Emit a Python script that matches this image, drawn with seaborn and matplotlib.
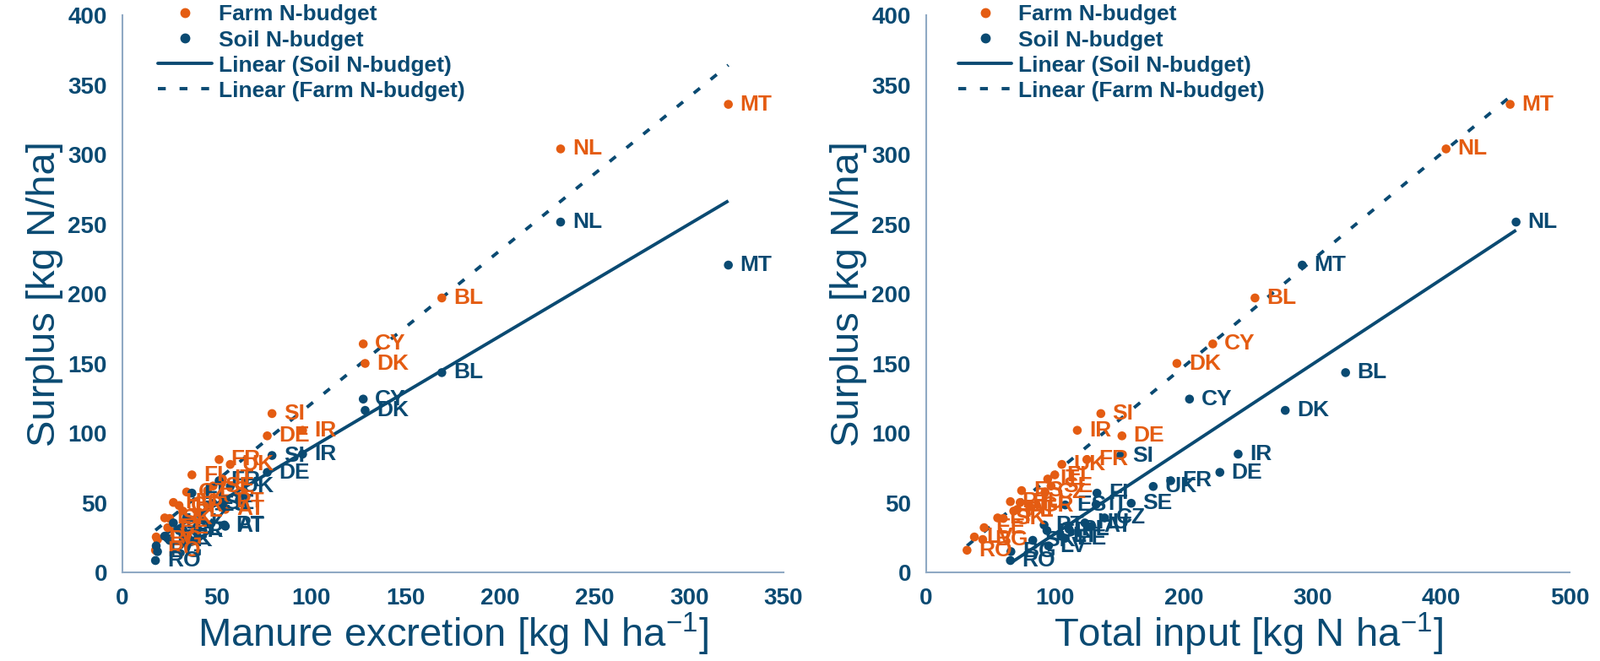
import numpy as np
import pandas as pd
import matplotlib as mpl
mpl.use("Agg")
import matplotlib.pyplot as plt
from matplotlib.lines import Line2D
import seaborn as sns

# %%
# values
countries = ["MT", "NL", "BL", "CY", "DK", "SI", "IR", "DE", "FR", "UK", "FI", "IT", "ES",
             "CZ", "SE", "PT", "HU", "AT", "PL", "GR", "LT", "SK", "EE", "LV", "BG", "RO"]
farm_surplus = [336, 304, 197, 164, 150, 114, 102, 98, 81, 77.5, 70, 67, 58.7,
                57.7, 62, 50.8, 50.2, 45.2, 44, 48, 39.1, 38.7, 32.1, 25.4, 23.6, 15.9]
soil_surplus = [220.6, 251.5, 143.4, 124.4, 116.3, 83.9, 84.9, 71.8, 65.8, 61.7, 56.9, 48.8, 48.4,
                39.1, 49.6, 34, 35.5, 33.1, 31, 30, 26, 23, 24.5, 19, 14.9, 8.5]
manure = [320.8, 232, 169.1, 127.5, 128.5, 79.2, 95.4, 76.7, 51.2, 57.1, 36.8, 53, 45,
          34, 48, 54, 27, 54.5, 32, 30, 22.4, 25, 24, 17.9, 18.6, 17.5]
input_farm = [453.8, 404, 255.5, 222.7, 194.8, 135.7, 117.4, 152.1, 124.8, 105.4, 99.9, 94.4, 74.1,
              92.3, 97, 65.4, 73, 70.8, 68, 80, 55.5, 59.9, 45, 37.4, 43.9, 31.7]
input_soil = [292.2, 458.4, 325.9, 204.6, 279, 151, 242.4, 228.2, 190, 176.4, 132.7, 132, 108,
              138.6, 159.3, 91.6, 123.3, 128.7, 111, 93.8, 104.7, 82.8, 108, 95, 65.8, 65.4]

df = pd.DataFrame({
    "country": countries,
    "farm": farm_surplus,
    "soil": soil_surplus,
    "manure": manure,
    "in_farm": input_farm,
    "in_soil": input_soil,
})

ORANGE = "#e45c12"
NAVY = "#0a4a72"
SPINE = "#8fa9c4"
DASH = (0, (2.4, 4.2))

sns.set_style("white")
plt.rcParams["font.family"] = ["Liberation Sans", "DejaVu Sans"]
plt.rcParams["mathtext.fontset"] = "custom"
plt.rcParams["mathtext.rm"] = "Liberation Sans"

fig = plt.figure(figsize=(18.95, 7.83), dpi=100)
ax1 = fig.add_axes([0.0765, 0.1341, 0.4132, 0.8429])
ax2 = fig.add_axes([0.5789, 0.1341, 0.4021, 0.8429])

panels = [
    (ax1, "manure", "manure", "Manure excretion [kg N ha$^{-1}$]", 350, 50, 0.054),
    (ax2, "in_farm", "in_soil", "Total input [kg N ha$^{-1}$]", 500, 100, 0.050),
]

for ax, xf, xs, xlabel, xmax, xstep, legx in panels:
    # trend lines
    sns.regplot(data=df, x=xs, y="soil", ax=ax, scatter=False, ci=None, truncate=True,
                line_kws={"color": NAVY, "lw": 2.8, "solid_capstyle": "butt"})
    sns.regplot(data=df, x=xf, y="farm", ax=ax, scatter=False, ci=None, truncate=True,
                line_kws={"color": NAVY, "lw": 2.8, "ls": DASH})
    # points
    sns.scatterplot(data=df, x=xf, y="farm", ax=ax, color=ORANGE, s=58,
                    edgecolor="none", zorder=4)
    sns.scatterplot(data=df, x=xs, y="soil", ax=ax, color=NAVY, s=58,
                    edgecolor="none", zorder=4)
    for _, r in df.iterrows():
        ax.annotate(r["country"], (r[xf], r["farm"]), xytext=(10, 0),
                    textcoords="offset points", va="center", ha="left",
                    color=ORANGE, fontsize=19, fontweight="bold", zorder=5)
        ax.annotate(r["country"], (r[xs], r["soil"]), xytext=(10, 0),
                    textcoords="offset points", va="center", ha="left",
                    color=NAVY, fontsize=19, fontweight="bold", zorder=5)

    ax.set_xlim(0, xmax)
    ax.set_ylim(0, 400)
    ax.set_xticks(np.arange(0, xmax + 1, xstep))
    ax.set_yticks(np.arange(0, 401, 50))
    ax.set_xlabel(xlabel, fontsize=34, color=NAVY, labelpad=1)
    ax.set_ylabel("Surplus [kg N/ha]", fontsize=34, color=NAVY, labelpad=4)
    ax.tick_params(axis="both", direction="out", length=5, width=1.5, color=SPINE,
                   labelsize=20, labelcolor=NAVY, pad=8)
    for lab in ax.get_xticklabels() + ax.get_yticklabels():
        lab.set_fontweight("bold")
    sns.despine(ax=ax)
    for side in ["left", "bottom"]:
        ax.spines[side].set_color(SPINE)
        ax.spines[side].set_linewidth(1.5)
    ax.patch.set_alpha(0)

    handles = [
        Line2D([], [], ls="none", marker="o", ms=7.5, color=ORANGE),
        Line2D([], [], ls="none", marker="o", ms=7.5, color=NAVY),
        Line2D([], [], color=NAVY, lw=2.8),
        Line2D([], [], color=NAVY, lw=2.8, ls=DASH),
    ]
    labels = ["Farm N-budget", "Soil N-budget", "Linear (Soil N-budget)", "Linear (Farm N-budget)"]
    leg = ax.legend(handles, labels, loc="upper left", bbox_to_anchor=(legx, 1.019),
                    frameon=False, fontsize=19, handlelength=2.4, handletextpad=0.3,
                    labelspacing=0.23, borderaxespad=0, borderpad=0)
    for t in leg.get_texts():
        t.set_color(NAVY)
        t.set_fontweight("bold")

fig.savefig("out.png", dpi=100)
